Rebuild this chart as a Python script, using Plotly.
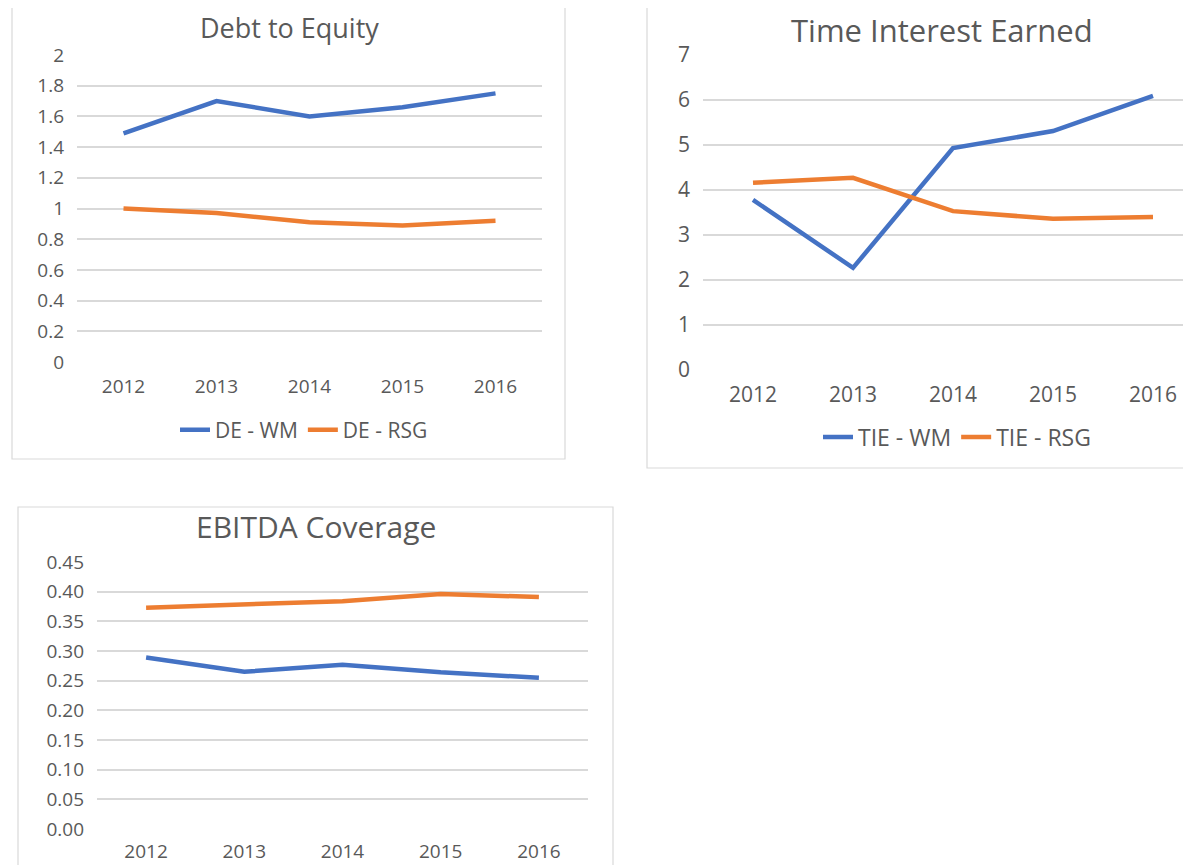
import plotly.graph_objects as go

years = ["2012", "2013", "2014", "2015", "2016"]

de_wm = [1.49, 1.70, 1.60, 1.66, 1.75]
de_rsg = [1.00, 0.97, 0.91, 0.89, 0.92]

tie_wm = [3.78, 2.27, 4.93, 5.31, 6.09]
tie_rsg = [4.16, 4.27, 3.53, 3.36, 3.40]

ebitda_wm = [0.289, 0.265, 0.277, 0.264, 0.255]
ebitda_rsg = [0.373, 0.378, 0.384, 0.396, 0.391]

BLUE = "#4472C4"
ORANGE = "#ED7D31"
GRID = "#D9D9D9"
TEXT = "#595959"
FONT = "Open Sans"

W, H = 1191, 865
OFF = 8  # page body margin


def px_x(p):
    return (p - OFF) / W


def px_y(p):
    return 1 - (p - OFF) / H


fig = go.Figure()

# Panel 1: Debt to Equity
fig.add_trace(go.Scatter(x=years, y=de_wm, name="DE - WM", mode="lines",
                         line=dict(color=BLUE, width=4.5), xaxis="x", yaxis="y", legend="legend"))
fig.add_trace(go.Scatter(x=years, y=de_rsg, name="DE - RSG", mode="lines",
                         line=dict(color=ORANGE, width=4.5), xaxis="x", yaxis="y", legend="legend"))

# Panel 2: Time Interest Earned
fig.add_trace(go.Scatter(x=years, y=tie_wm, name="TIE - WM", mode="lines",
                         line=dict(color=BLUE, width=4.5), xaxis="x2", yaxis="y2", legend="legend2"))
fig.add_trace(go.Scatter(x=years, y=tie_rsg, name="TIE - RSG", mode="lines",
                         line=dict(color=ORANGE, width=4.5), xaxis="x2", yaxis="y2", legend="legend2"))

# Panel 3: EBITDA Coverage
fig.add_trace(go.Scatter(x=years, y=ebitda_wm, name="EBITDA - WM", mode="lines",
                         line=dict(color=BLUE, width=4.5), xaxis="x3", yaxis="y3", showlegend=False))
fig.add_trace(go.Scatter(x=years, y=ebitda_rsg, name="EBITDA - RSG", mode="lines",
                         line=dict(color=ORANGE, width=4.5), xaxis="x3", yaxis="y3", showlegend=False))


def xax(domain, rng, size, anchor, standoff):
    return dict(domain=domain, range=rng, type="category", anchor=anchor,
                showgrid=False, zeroline=False, showline=False, ticks="",
                automargin=False,
                tickfont=dict(family=FONT, size=size, color=TEXT),
                ticklabelstandoff=standoff, fixedrange=True)


def yax(domain, rng, dtick, size, anchor, fmt=None):
    d = dict(domain=domain, range=rng, dtick=dtick, tick0=0, anchor=anchor,
             showgrid=True, gridcolor=GRID, gridwidth=1.5, zeroline=False,
             showline=False, ticks="", automargin=False,
             tickfont=dict(family=FONT, size=size, color=TEXT),
             ticklabelstandoff=12, fixedrange=True)
    if fmt:
        d["tickformat"] = fmt
    return d


x2_left = 703
x2_cat = 100.0
x2_right_cat = -0.5 + (W + OFF - x2_left) / x2_cat

fig.update_layout(
    width=W, height=H,
    margin=dict(l=0, r=0, t=0, b=0, autoexpand=False),
    paper_bgcolor="white", plot_bgcolor="white",
    xaxis=xax([px_x(77), px_x(542)], [-0.5, 4.5], 19, "y", 11),
    yaxis=yax([px_y(362), px_y(55)], [0, 2], 0.2, 19, "x"),
    xaxis2=xax([px_x(x2_left), 1.0], [-0.5, x2_right_cat], 21, "y2", 10),
    yaxis2=yax([px_y(370), px_y(55)], [0, 7], 1, 21, "x2"),
    xaxis3=xax([px_x(97), px_x(588)], [-0.5, 4.5], 19, "y3", 9),
    yaxis3=yax([px_y(829), px_y(562)], [0, 0.45], 0.05, 19, "x3", ".2f"),
    legend=dict(orientation="h", x=px_x(304), xanchor="center", y=px_y(430), yanchor="middle",
                font=dict(family=FONT, size=21, color=TEXT), bgcolor="rgba(0,0,0,0)",
                itemwidth=30, tracegroupgap=0),
    legend2=dict(orientation="h", x=px_x(957), xanchor="center", y=px_y(437), yanchor="middle",
                 font=dict(family=FONT, size=23, color=TEXT), bgcolor="rgba(0,0,0,0)",
                 itemwidth=30, tracegroupgap=0),
    showlegend=True,
)

# Panel borders
border = dict(type="rect", xref="paper", yref="paper", line=dict(color=GRID, width=1.2),
              fillcolor="rgba(0,0,0,0)", layer="below")
fig.add_shape(x0=px_x(12), x1=px_x(565), y0=px_y(459), y1=1.05, **border)
fig.add_shape(x0=px_x(647), x1=1.05, y0=px_y(468), y1=1.05, **border)
fig.add_shape(x0=px_x(18), x1=px_x(613), y0=-0.05, y1=px_y(507), **border)

# Titles (top two anchored to the top edge so they stay fully visible)
fig.add_annotation(text="Debt to Equity", x=px_x(289), y=1.0, xref="paper", yref="paper",
                   xanchor="center", yanchor="top", showarrow=False, borderpad=0,
                   font=dict(family=FONT, size=27, color=TEXT))
fig.add_annotation(text="Time Interest Earned", x=px_x(942), y=1.0, xref="paper", yref="paper",
                   xanchor="center", yanchor="top", showarrow=False, borderpad=0,
                   font=dict(family=FONT, size=31, color=TEXT))
fig.add_annotation(text="EBITDA Coverage", x=px_x(316), y=px_y(526), xref="paper", yref="paper",
                   xanchor="center", yanchor="middle", showarrow=False,
                   font=dict(family=FONT, size=30, color=TEXT))

fig.write_html("out.html")
